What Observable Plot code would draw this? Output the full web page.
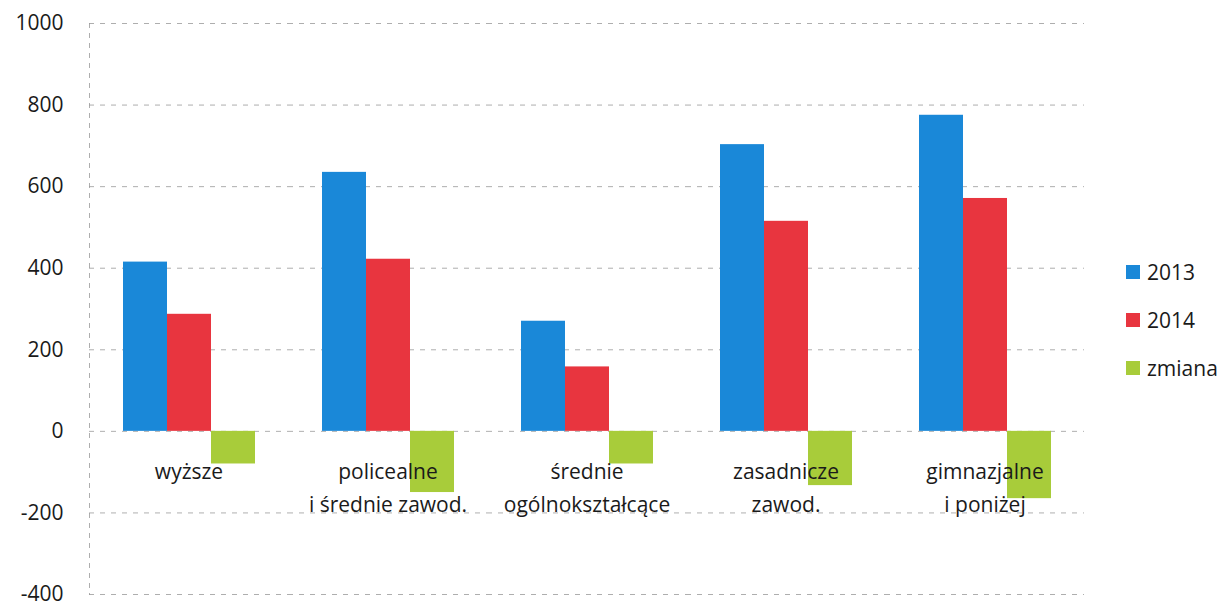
<!DOCTYPE html>
<html>
<head>
<meta charset="utf-8">
<script src="https://cdn.jsdelivr.net/npm/d3@7"></script>
<script src="https://cdn.jsdelivr.net/npm/@observablehq/plot@0.6"></script>
<style>
  html, body { margin: 0; padding: 0; background: #fff; }
  #wrap { position: relative; width: 1226px; height: 604px; overflow: hidden; font-family: "Open Sans", sans-serif; }
  #legend { position: absolute; left: 1126px; top: 248px; font-size: 21px; color: #1a1a1a; }
  #legend .item { display: flex; align-items: center; height: 48px; }
  #legend .sw { width: 14px; height: 14px; margin-right: 7px; }
</style>
</head>
<body>
<div id="wrap"><div id="legend"></div></div>
<script>
// Data
const categories = ["wyższe", "policealne i średnie zawod.", "średnie ogólnokształcące", "zasadnicze zawod.", "gimnazjalne i poniżej"];
const categoryLabels = ["wyższe", "policealne\ni średnie zawod.", "średnie\nogólnokształcące", "zasadnicze\nzawod.", "gimnazjalne\ni poniżej"];
const series = ["2013", "2014", "zmiana"];
const values2013 = [415, 635, 270, 703, 775];
const values2014 = [287, 422, 158, 515, 571];
const valuesZmiana = [-80, -150, -80, -133, -165];
const yTicks = [-400, -200, 0, 200, 400, 600, 800, 1000];
const seriesColors = ["#1a88d8", "#e8353f", "#a8cc3a"];

const table = [];
categories.forEach((c, i) => {
  table.push({category: c, series: "2013", value: values2013[i]});
  table.push({category: c, series: "2014", value: values2014[i]});
  table.push({category: c, series: "zmiana", value: valuesZmiana[i]});
});
const labelRows = categories.map((c, i) => ({category: c, label: categoryLabels[i], base: 0}));

const chart = Plot.plot({
  width: 1226,
  height: 604,
  marginLeft: 88,
  marginRight: 141,
  marginTop: 23,
  marginBottom: 10,
  style: {fontFamily: "Open Sans, sans-serif", fontSize: "21px", color: "#1a1a1a", background: "transparent"},
  fx: {domain: categories, padding: 0, axis: null},
  x: {domain: series, paddingInner: 0, paddingOuter: 0.76, axis: null},
  y: {domain: [-400, 1000], ticks: yTicks, tickFormat: d => String(d), tickSize: 0, tickPadding: 26, label: null},
  color: {domain: series, range: seriesColors},
  marks: [
    Plot.ruleY(yTicks, {stroke: "#9a9a9a", strokeWidth: 1, strokeDasharray: "5,6", strokeOpacity: 0.8}),
    Plot.frame({anchor: "left", facetAnchor: "left", stroke: "#9a9a9a", strokeDasharray: "4,6", strokeOpacity: 0.8}),
    Plot.barY(table, {fx: "category", x: "series", y: "value", fill: "series", insetLeft: 0, insetRight: 0}),
    Plot.text(labelRows, {fx: "category", y: "base", text: "label", lineAnchor: "top", dy: 25, lineHeight: 1.55, fontSize: 21, fill: "#1a1a1a"}),
    Plot.axisY({ticks: yTicks, tickFormat: d => String(d), tickSize: 0, tickPadding: 26, fontSize: 21, label: null})
  ]
});
document.getElementById("wrap").prepend(chart);

const legend = document.getElementById("legend");
series.forEach((s, i) => {
  const item = document.createElement("div");
  item.className = "item";
  const sw = document.createElement("span");
  sw.className = "sw";
  sw.style.background = seriesColors[i];
  const t = document.createElement("span");
  t.textContent = s;
  item.appendChild(sw);
  item.appendChild(t);
  legend.appendChild(item);
});
</script>
</body>
</html>
